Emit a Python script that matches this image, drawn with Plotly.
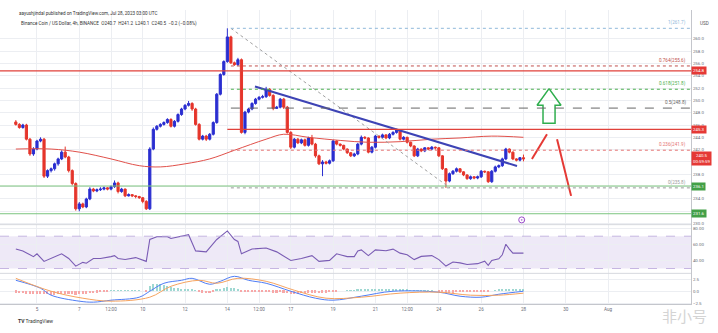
import plotly.graph_objects as go
import pandas as pd

# ---------------- data (BNB/USD 4h) ----------------
START = "2023-07-04 00:00"
opens = [246.5,246.1,245.6,246.0,243.7,241.3,242.1,243.4,243.7,237.7,
         238.6,238.9,239.7,240.5,241.6,240.8,238.6,236.5,232.4,233.2,
         232.7,234.0,235.6,235.3,235.5,235.6,235.8,235.6,236.0,236.6,
         235.2,235.6,234.5,234.7,234.5,234.4,234.2,233.6,232.4,242.1,
         245.3,245.8,246.1,246.4,246.9,245.8,246.6,247.7,248.6,249.2,
         249.5,248.6,246.1,243.7,244.2,243.7,244.5,246.4,251.0,254.2,
         256.3,260.3,256.1,255.8,256.6,244.8,248.1,248.6,249.5,250.2,
         250.5,250.6,251.8,250.8,248.7,248.9,250.2,248.9,244.8,242.4,
         243.7,243.1,243.6,242.7,243.9,242.9,241.0,239.7,240.0,239.8,
         240.2,243.4,242.9,242.7,242.1,241.5,241.0,241.3,242.9,244.0,
         243.9,241.6,242.4,244.2,244.0,244.4,243.9,244.5,244.8,245.2,
         243.7,244.0,243.2,242.6,241.0,242.1,241.8,242.3,242.1,242.4,
         242.3,241.0,238.9,236.9,238.1,238.5,238.9,238.4,237.9,237.3,
         237.6,237.4,237.6,238.5,238.4,236.8,238.5,239.2,239.4,240.5,
         242.1,241.6,240.5,240.3,240.7]
highs = [246.8,246.3,246.2,246.2,243.9,242.4,243.6,244.0,243.9,238.8,
         239.1,239.9,240.7,241.9,242.5,241.0,238.8,236.7,233.5,233.4,
         234.2,235.9,235.8,235.7,235.9,236.0,235.9,236.2,237.0,236.8,
         235.8,235.7,234.9,234.8,234.6,234.5,234.3,233.8,242.4,245.6,
         246.0,246.3,246.6,247.1,247.1,246.8,247.9,248.8,249.4,249.9,
         249.7,248.8,246.3,244.4,244.4,244.7,246.6,251.2,254.4,256.5,
         261.7,260.5,256.3,256.9,256.8,248.3,248.8,249.7,250.4,250.7,
         250.9,252.2,252.0,251.0,249.1,250.4,250.4,249.1,245.0,243.9,
         243.9,243.8,243.8,244.1,244.4,243.1,241.2,240.3,240.2,240.4,
         243.6,243.5,243.0,242.8,242.2,241.6,241.5,243.1,244.3,244.2,
         244.0,242.6,244.4,244.3,244.6,244.5,244.7,245.0,245.4,245.3,
         244.2,244.1,243.3,242.7,242.3,242.2,242.4,242.4,242.6,242.5,
         242.4,241.1,239.0,238.3,238.7,239.1,239.0,238.5,238.0,237.8,
         237.7,237.8,238.7,238.6,238.5,238.7,239.4,239.6,240.7,242.3,
         242.2,241.7,240.6,240.8,241.2]
lows = [245.9,245.4,245.4,243.5,241.0,241.0,241.9,243.2,237.4,237.4,
        238.3,238.6,239.4,240.3,240.6,238.3,236.2,232.1,232.0,232.5,
        232.5,233.8,235.1,235.1,235.3,235.4,235.4,235.4,235.8,234.9,
        235.0,234.3,234.4,234.3,234.1,234.0,233.3,232.2,232.2,241.9,
        245.1,245.6,245.9,246.2,245.6,245.6,246.4,247.5,248.4,249.0,
        248.3,245.9,243.5,243.5,243.4,243.5,244.3,246.2,250.8,254.0,
        256.1,255.9,255.6,255.6,244.6,244.5,247.9,248.4,249.3,250.0,
        250.3,250.4,250.6,248.4,248.6,248.7,248.6,244.6,242.1,242.2,
        242.9,242.9,242.5,242.5,242.7,240.7,239.5,237.7,239.6,239.6,
        240.0,242.7,242.5,241.9,241.3,240.8,240.8,241.1,242.7,243.7,
        241.4,241.4,242.2,243.8,243.8,243.7,243.7,244.3,244.6,243.5,
        243.5,243.0,242.4,240.8,240.8,241.6,241.6,241.9,241.9,242.0,
        240.8,238.7,235.8,236.7,237.9,238.3,238.2,237.7,237.1,237.1,
        237.2,237.2,237.4,238.2,236.6,236.6,238.3,239.0,239.2,240.3,
        241.4,240.3,240.1,240.1,240.1]
closes = [246.1,245.6,246.0,243.7,241.3,242.1,243.4,243.7,237.7,238.6,
          238.9,239.7,240.5,241.6,240.8,238.6,236.5,232.4,233.2,232.7,
          234.0,235.6,235.3,235.5,235.6,235.8,235.6,236.0,236.6,235.2,
          235.6,234.5,234.7,234.5,234.4,234.2,233.6,232.4,242.1,245.3,
          245.8,246.1,246.4,246.9,245.8,246.6,247.7,248.6,249.2,249.5,
          248.6,246.1,243.7,244.2,243.7,244.5,246.4,251.0,254.2,256.3,
          260.3,256.1,255.8,256.6,244.8,248.1,248.6,249.5,250.2,250.5,
          250.6,251.8,250.8,248.7,248.9,250.2,248.9,244.8,242.4,243.7,
          243.1,243.6,242.7,243.9,242.9,241.0,239.7,240.0,239.8,240.2,
          243.4,242.9,242.7,242.1,241.5,241.0,241.3,242.9,244.0,243.9,
          241.6,242.4,244.2,244.0,244.4,243.9,244.5,244.8,245.2,243.7,
          244.0,243.2,242.6,241.0,242.1,241.8,242.3,242.1,242.4,242.3,
          241.0,238.9,236.9,238.1,238.5,238.9,238.4,237.9,237.3,237.6,
          237.4,237.6,238.5,238.4,236.8,238.5,239.2,239.4,240.5,242.1,
          241.6,240.5,240.3,240.7,240.5]

# red moving average (sampled at candle indices)
ma_idx = [0,10,18,27,35,41,48,55,62,71,76,83,92,100,109,118,126,135,144]
ma_val = [242.1,242.1,241.6,240.5,239.4,239.2,239.7,240.5,241.9,243.7,
          244.5,244.0,243.5,243.2,243.3,243.7,243.9,244.2,244.0]

# RSI (sampled at candle indices)
rsi_idx = [0,2,5,6,8,10,13,15,17,19,20,22,24,27,28,29,31,34,37,38,
           40,43,44,49,51,54,57,60,62,63,64,67,71,74,78,81,84,86,89,91,
           94,96,97,98,100,102,105,107,109,111,113,115,118,120,122,124,126,128,131,133,
           134,135,137,138,139,140,141,144]
rsi_val = [54.1,51.8,44.7,48.2,38.8,42.4,48.2,42.4,32.9,37.6,36.5,42.4,42.4,44.7,45.9,42.4,41.2,43.5,38.8,65.9,
           69.4,69.4,67.1,71.8,51.8,50.6,65.9,76.5,65.9,63.5,48.2,54.1,55.3,50.6,40.0,42.4,45.9,38.8,40.0,48.2,
           44.7,44.7,51.8,53.0,46.0,53.0,52.0,54.0,49.0,47.0,41.0,45.0,46.0,41.0,33.0,38.0,37.0,35.0,36.0,39.0,
           34.0,40.0,42.0,47.0,60.0,54.0,49.0,49.0]

# MACD
macd_idx = [0,7,10,18,22,27,35,38,42,47,50,55,58,62,66,71,78,85,90,98,107,120,126,132,137,144]
macd_val = [2.29,0.63,-0.83,-2.08,-2.29,-1.88,-1.25,0.0,1.67,2.29,2.71,1.46,2.08,3.13,2.29,1.67,
            0.0,-1.46,-1.88,-1.04,0.0,-0.21,-1.04,-1.25,-0.63,0.0]
signal_idx = [0,10,19,27,38,44,52,57,63,71,79,88,98,109,120,129,137,144]
signal_val = [2.7,0.0,-1.46,-2.08,-1.25,1.04,2.29,1.67,2.71,2.08,0.21,-1.46,-1.25,-0.4,-0.2,-0.83,-0.83,-0.4]
hist_val = [-0.4,-0.45,-0.5,-0.55,-0.6,-0.6,-0.6,-0.65,-0.7,-0.7,
            -0.8,-0.8,-0.75,-0.7,-0.7,-0.7,-0.75,-0.8,-0.7,-0.6,
            -0.55,-0.5,-0.45,-0.35,-0.25,-0.15,-0.05,0.1,0.15,0.1,
            0.15,0.1,0.1,0.1,0.1,0.05,0.0,-0.1,1.0,1.4,
            1.5,1.4,1.3,1.1,0.9,0.7,0.6,0.5,0.45,0.4,
            0.35,0.1,-0.2,-0.4,-0.45,-0.5,-0.3,0.2,0.5,0.7,
            0.9,0.7,0.6,0.5,-0.1,-0.2,-0.25,-0.25,-0.25,-0.25,
            -0.25,-0.3,-0.3,-0.35,-0.35,-0.3,-0.35,-0.5,-0.6,-0.6,
            -0.55,-0.5,-0.45,-0.4,-0.35,-0.4,-0.45,-0.4,-0.35,-0.3,
            -0.15,-0.05,0.0,0.0,0.05,0.05,0.1,0.2,0.3,0.35,
            0.3,0.35,0.4,0.45,0.45,0.45,0.45,0.45,0.4,0.35,
            0.3,0.25,0.15,0.05,0.05,0.05,0.05,0.05,0.05,0.0,
            -0.1,-0.2,-0.35,-0.35,-0.35,-0.3,-0.3,-0.3,-0.3,-0.3,
            -0.25,-0.2,-0.15,-0.1,-0.1,0.0,0.1,0.2,0.3,0.45,
            0.45,0.4,0.4,0.4,0.4]

# drawn levels / tools
fib_high, fib_low = 261.7, 235.8
fib_start = "2023-07-14 04:00"
fib_ratios = [1, 0.764, 0.618, 0.5, 0.236, 0]
fib_colors = ["#8fb8da", "#c0504d", "#4caf50", "#666666", "#e57373", "#9a9a9a"]
fib_dash = ["dot", "dot", "dot", "dash", "dot", "dot"]
fib_diag_t = ["2023-07-14 04:00", "2023-07-24 12:40"]
fib_diag_p = [261.7, 235.8]
trend_t = ["2023-07-15 07:20", "2023-07-27 16:40"]
trend_p = [252.25, 239.35]
red_levels = [254.8, 245.3]
red_level_start = [None, "2023-07-14 00:00"]
green_levels = [236.1, 231.6]
last_price = 240.5
arrow_t = ["2023-07-29 05:00", "2023-07-29 18:35", "2023-07-29 11:50", "2023-07-29 11:50",
           "2023-07-28 22:10", "2023-07-28 22:10", "2023-07-28 15:25", "2023-07-29 05:00"]
arrow_p = [251.9, 249.2, 249.2, 246.3, 246.3, 249.2, 249.2, 251.9]
red_up_t = ["2023-07-28 09:35", "2023-07-29 02:40"]
red_up_p = [240.5, 244.5]
red_dn_t = ["2023-07-29 14:05", "2023-07-30 06:00"]
red_dn_p = [243.7, 234.5]
event_t = ["2023-07-27 22:00"]
event_p = [230.6]

tick_dates = ["2023-07-05", "2023-07-07", "2023-07-08 12:00", "2023-07-10", "2023-07-12",
              "2023-07-14", "2023-07-15 12:00", "2023-07-17", "2023-07-19", "2023-07-21",
              "2023-07-22 12:00", "2023-07-24", "2023-07-26", "2023-07-28", "2023-07-30",
              "2023-08-01"]
tick_text = ["5", "7", "12:00", "10", "12", "14", "12:00", "17", "19", "21", "12:00",
             "24", "26", "28", "30", "Aug"]
price_ticks = [230, 232, 234, 236, 238, 240, 242, 244, 246, 248, 250, 252, 254, 256, 258, 260]
hidden_ticks = [232, 240]          # covered by price tags on the axis
X_RANGE = ["2023-07-03 06:02", "2023-08-04 22:05"]

# ---------------- figure ----------------
UP, DN = "#2a2ed0", "#e5352b"
GRID = "#eceef2"
AX = "#6b6e78"
FONT = "Roboto"
times = pd.date_range(START, periods=len(closes), freq="4h")

fig = go.Figure()
fig.add_trace(go.Candlestick(
    x=times, open=opens, high=highs, low=lows, close=closes,
    increasing=dict(line=dict(color=UP, width=1), fillcolor=UP),
    decreasing=dict(line=dict(color=DN, width=1), fillcolor=DN),
    whiskerwidth=0, xaxis="x", yaxis="y", showlegend=False))
fig.add_trace(go.Scatter(x=times[ma_idx], y=ma_val, mode="lines", xaxis="x", yaxis="y",
                         line=dict(color="#e0504a", width=1, shape="spline"), showlegend=False))
fig.add_trace(go.Scatter(x=fib_diag_t, y=fib_diag_p, mode="lines", xaxis="x", yaxis="y",
                         line=dict(color="#a0a0a0", width=1, dash="dot"), showlegend=False))
fig.add_trace(go.Scatter(x=trend_t, y=trend_p, mode="lines", xaxis="x", yaxis="y",
                         line=dict(color="#3d43b5", width=2), showlegend=False))
fig.add_trace(go.Scatter(x=arrow_t, y=arrow_p, mode="lines", xaxis="x", yaxis="y",
                         line=dict(color="#2fae4e", width=1.5), showlegend=False))
fig.add_trace(go.Scatter(x=red_up_t, y=red_up_p, mode="lines", xaxis="x", yaxis="y",
                         line=dict(color="#e53935", width=2), showlegend=False))
fig.add_trace(go.Scatter(x=red_dn_t, y=red_dn_p, mode="lines", xaxis="x", yaxis="y",
                         line=dict(color="#e53935", width=2), showlegend=False))
fig.add_trace(go.Scatter(x=event_t, y=event_p, mode="markers", xaxis="x", yaxis="y",
                         marker=dict(symbol="circle-open-dot", size=6, color="#9c4dcc",
                                     line=dict(width=1)), showlegend=False))

# RSI
fig.add_trace(go.Scatter(x=times[rsi_idx], y=rsi_val, mode="lines", xaxis="x", yaxis="y2",
                         line=dict(color="#7a5cb4", width=1.1), showlegend=False))
# MACD
hist_colors = ["#9fd8d2" if v >= 0 else "#f7a8a8" for v in hist_val]
fig.add_trace(go.Bar(x=times, y=hist_val, marker=dict(color=hist_colors, line=dict(width=0)),
                     width=4 * 3600 * 1000 * 0.45, xaxis="x", yaxis="y3", showlegend=False))
fig.add_trace(go.Scatter(x=times[macd_idx], y=macd_val, mode="lines", xaxis="x", yaxis="y3",
                         line=dict(color="#4f7df5", width=1, shape="spline"), showlegend=False))
fig.add_trace(go.Scatter(x=times[signal_idx], y=signal_val, mode="lines", xaxis="x", yaxis="y3",
                         line=dict(color="#f5a35f", width=1, shape="spline"), showlegend=False))

shapes = []
annotations = []
# horizontal support / resistance levels
for lvl, st in zip(red_levels, red_level_start):
    if st is None:
        shapes.append(dict(type="line", xref="x domain", yref="y", x0=0, x1=1, y0=lvl, y1=lvl,
                           line=dict(color="#e0413a", width=1.2)))
    else:
        shapes.append(dict(type="line", xref="x", yref="y", x0=st, x1=X_RANGE[1], y0=lvl, y1=lvl,
                           line=dict(color="#e0413a", width=1.2)))
for lvl in green_levels:
    shapes.append(dict(type="line", xref="x domain", yref="y", x0=0, x1=1, y0=lvl, y1=lvl,
                       line=dict(color="#7cc47f", width=1)))
# fib retracement
for r, col, dsh in zip(fib_ratios, fib_colors, fib_dash):
    v = fib_low + r * (fib_high - fib_low)
    shapes.append(dict(type="line", xref="x", yref="y", x0=fib_start, x1=X_RANGE[1], y0=v, y1=v,
                       line=dict(color=col, width=1, dash=dsh)))
    annotations.append(dict(xref="x domain", yref="y", x=0.996, y=v, xanchor="right",
                            yanchor="bottom", text=f"{r}({v:.1f})", showarrow=False,
                            font=dict(size=4.6, color=col, family=FONT)))
# RSI band
shapes.append(dict(type="rect", xref="x domain", yref="y2", x0=0, x1=1, y0=30, y1=70,
                   fillcolor="rgba(126,87,194,0.13)", line=dict(width=0), layer="below"))
for v in (70, 30):
    shapes.append(dict(type="line", xref="x domain", yref="y2", x0=0, x1=1, y0=v, y1=v,
                       line=dict(color="#b9a6dc", width=0.8, dash="dash")))
# pane separators
for yp in (1 - 226 / 333, 1 - 275 / 333):
    shapes.append(dict(type="line", xref="x domain", yref="paper", x0=0, x1=1, y0=yp, y1=yp,
                       line=dict(color="#d6d8de", width=1)))

# axis price tags
def tag(y, text, color, yref="y"):
    annotations.append(dict(xref="x domain", yref=yref, x=1.0, y=y, xanchor="left",
                            yanchor="middle", text=text, showarrow=False, bgcolor=color,
                            borderpad=1, font=dict(size=4.4, color="white", family=FONT)))

tag(red_levels[0], f"{red_levels[0]:.1f}", "#e53935")
tag(red_levels[1], f"{red_levels[1]:.1f}", "#e53935")
tag(last_price, f"{last_price:.1f}<br>00:59:59", "#e53935")
tag(green_levels[0], f"{green_levels[0]:.1f}", "#43a047")
tag(green_levels[1], f"{green_levels[1]:.1f}", "#43a047")

# header / footer texts
annotations += [
    dict(xref="paper", yref="paper", x=17 / 718, y=1 - 14 / 333, xanchor="left", yanchor="middle",
         text="aayushjindal published on TradingView.com, Jul 28, 2023 03:00 UTC",
         showarrow=False, font=dict(size=4.6, color="#333333", family=FONT)),
    dict(xref="paper", yref="paper", x=19 / 718, y=1 - 24 / 333, xanchor="left", yanchor="middle",
         text="Binance Coin / US Dollar, 4h, BINANCE  O240.7  H241.2  L240.1  C240.5  −0.2 (−0.08%)",
         showarrow=False, font=dict(size=4.6, color="#333333", family=FONT)),
    dict(xref="paper", yref="paper", x=698 / 718, y=1 - 24 / 333, xanchor="left", yanchor="middle",
         text="USD", showarrow=False, font=dict(size=4.6, color="#555555", family=FONT)),
    dict(xref="paper", yref="paper", x=16 / 718, y=1 - 323 / 333, xanchor="left", yanchor="middle",
         text="<b>TV</b> TradingView", showarrow=False,
         font=dict(size=5, color="#333333", family=FONT)),
    dict(xref="paper", yref="paper", x=684 / 718, y=1 - 317 / 333, xanchor="center",
         yanchor="middle", text="非小号", showarrow=False,
         font=dict(size=15, color="#d4d4d4", family="Noto Sans CJK SC")),
]

fig.update_layout(
    width=718, height=333, margin=dict(l=0, r=0, t=0, b=0),
    paper_bgcolor="white", plot_bgcolor="white", showlegend=False,
    font=dict(family=FONT, size=5, color=AX), bargap=0, boxgap=0.12,
    shapes=shapes, annotations=annotations,
    xaxis=dict(domain=[0, 691 / 718], range=X_RANGE, type="date", anchor="y3",
               tickvals=tick_dates, ticktext=tick_text, tickfont=dict(size=4.6, color=AX),
               showgrid=True, gridcolor=GRID, gridwidth=1, zeroline=False,
               showline=True, linecolor="#c4c6cc", ticks="", rangeslider=dict(visible=False)),
    yaxis=dict(domain=[1 - 226 / 333, 1 - 10 / 333], range=[229.83, 264.68], side="right",
               anchor="x", tickvals=price_ticks,
               ticktext=["" if v in hidden_ticks else f"{v:.1f}" for v in price_ticks],
               tickfont=dict(size=4.4, color=AX), showgrid=True, gridcolor=GRID,
               zeroline=False, showline=True, linecolor="#c4c6cc", ticks=""),
    yaxis2=dict(domain=[1 - 275 / 333, 1 - 226 / 333], range=[24.0, 84.3], side="right",
                anchor="x", tickvals=[80, 60, 40], ticktext=["80.00", "60.00", "40.00"],
                tickfont=dict(size=4.4, color=AX), showgrid=True, gridcolor=GRID,
                zeroline=False, showline=True, linecolor="#c4c6cc", ticks=""),
    yaxis3=dict(domain=[1 - 306 / 333, 1 - 275 / 333], range=[-2.71, 3.75], side="right",
                anchor="x", tickvals=[2.5, 0, -2.5], ticktext=["2.5", "0.0", "−2.5"],
                tickfont=dict(size=4.4, color=AX), showgrid=True, gridcolor=GRID,
                zeroline=False, showline=True, linecolor="#c4c6cc", ticks=""),
)

fig.write_html("out.html")
